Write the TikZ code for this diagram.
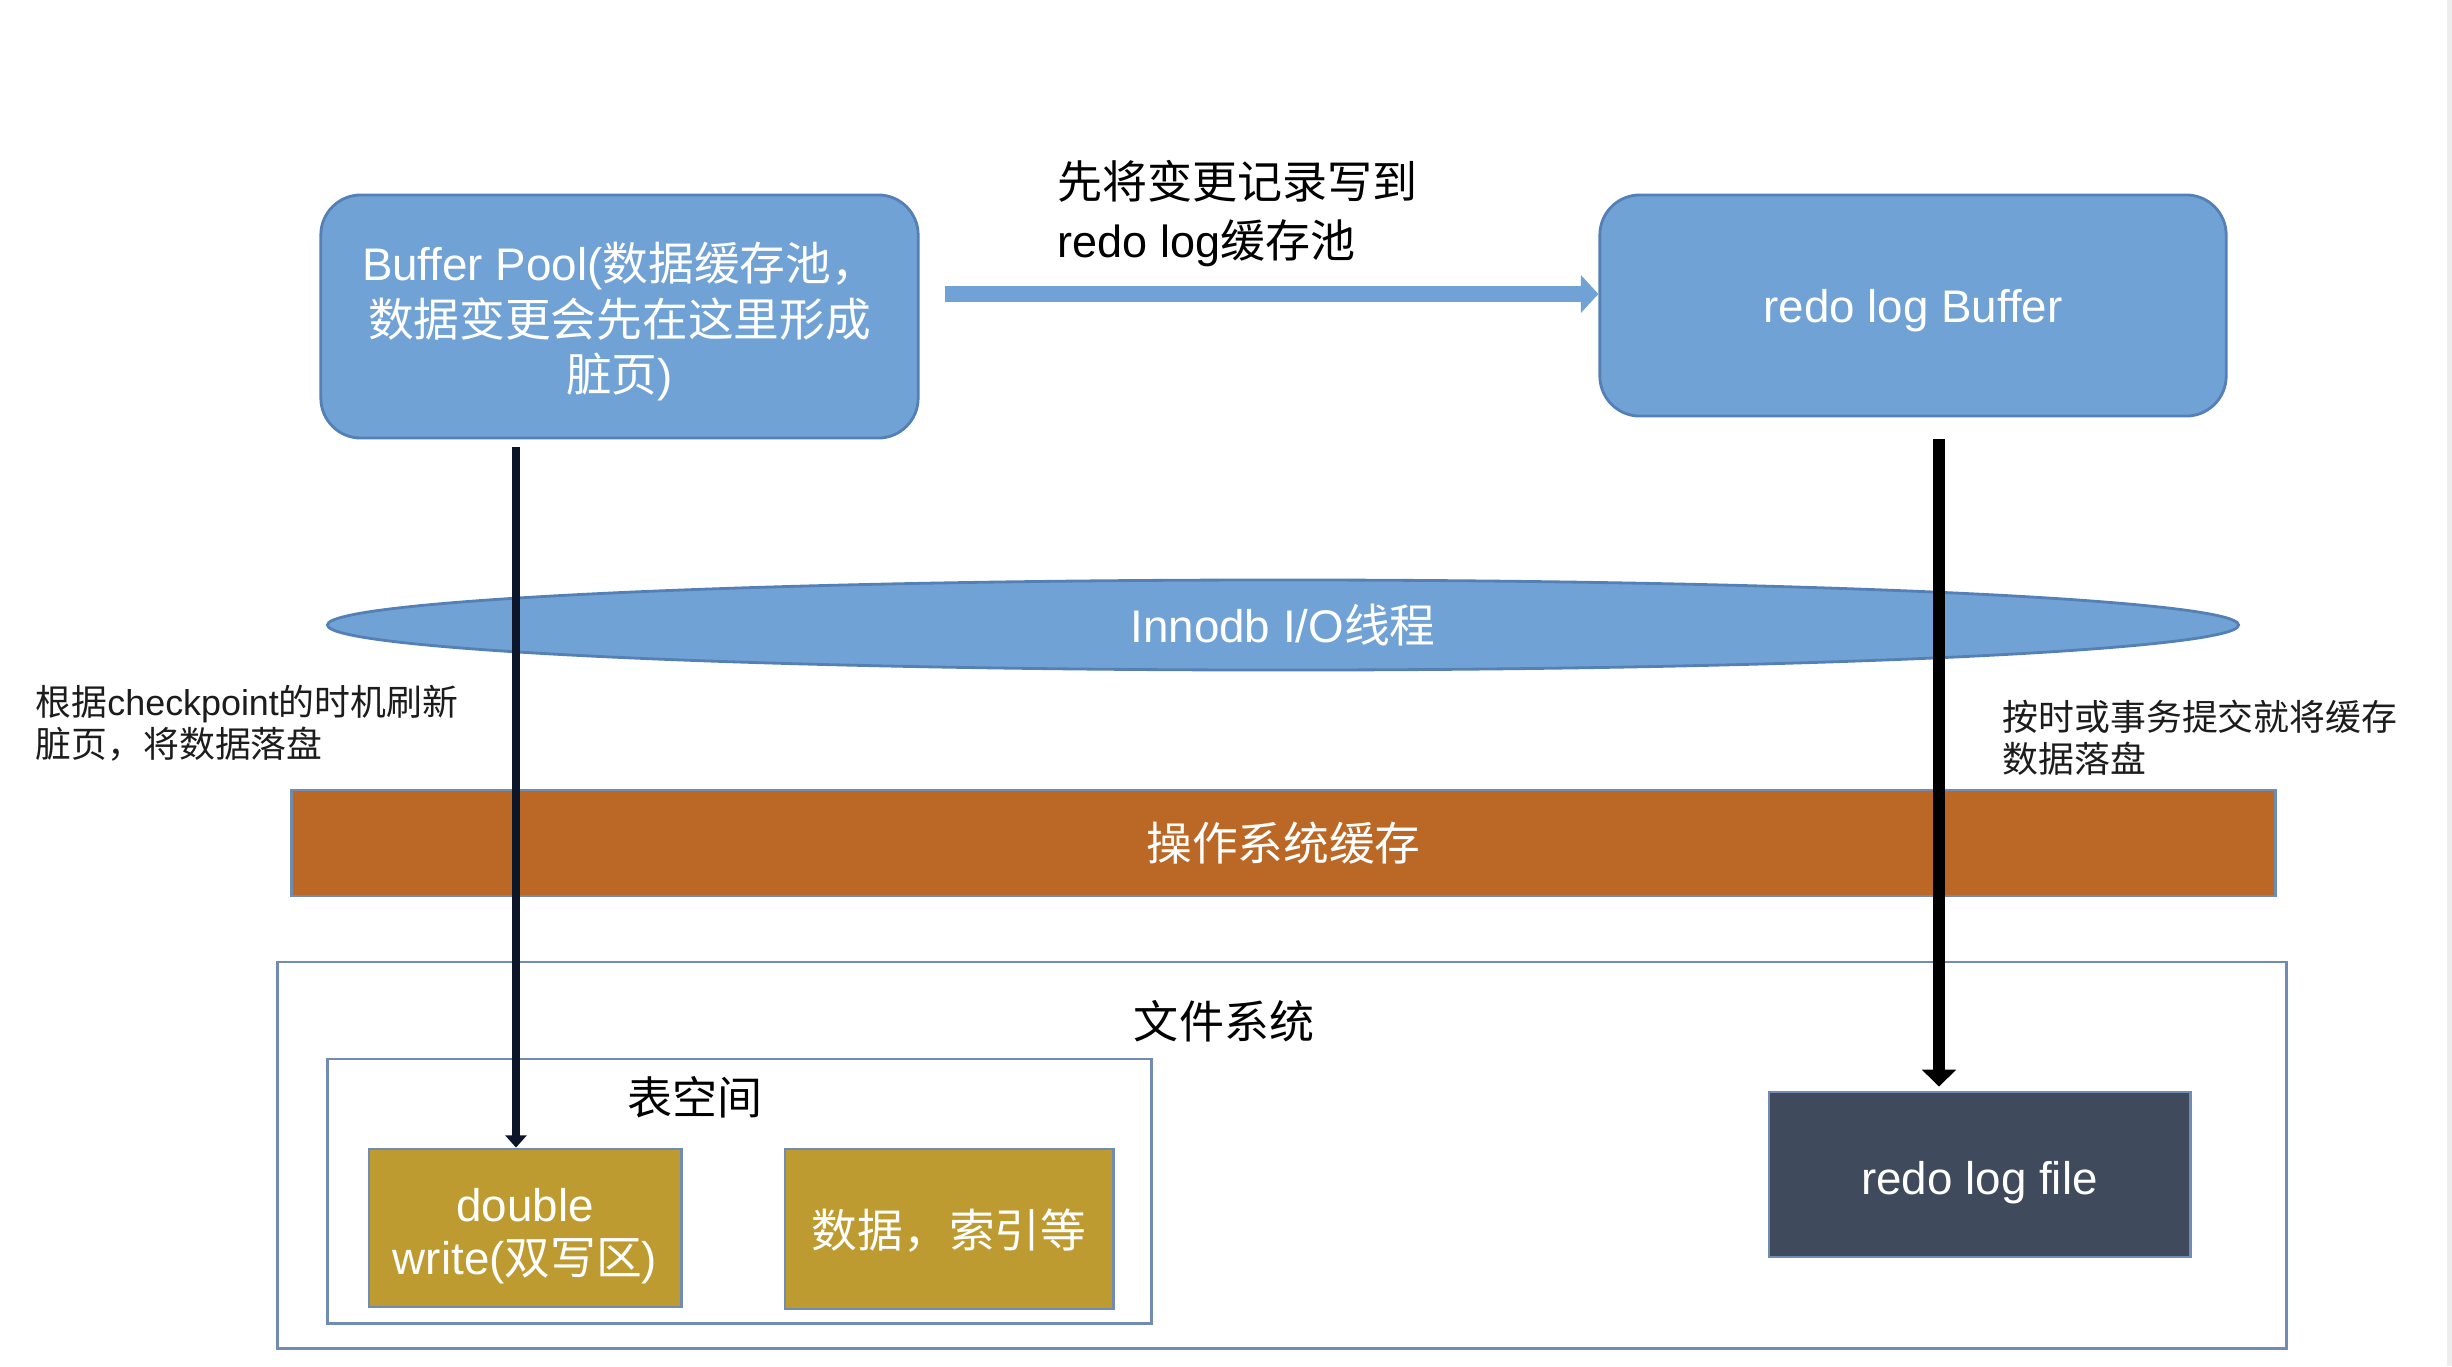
\documentclass[tikz,border=0pt]{standalone}
\usepackage{fontspec}
\setmainfont{Liberation Sans}
\newfontfamily\cjk{Noto Sans CJK SC}
\usetikzlibrary{arrows.meta,shapes.geometric}
\definecolor{boxblue}{RGB}{113,162,214}
\definecolor{boxblueline}{RGB}{84,128,182}
\definecolor{osorange}{RGB}{187,104,38}
\definecolor{goldbox}{RGB}{190,155,49}
\definecolor{slatebox}{RGB}{63,74,92}
\definecolor{framecol}{RGB}{112,140,178}
\definecolor{navyarrow}{RGB}{12,22,40}
\definecolor{notecol}{RGB}{28,28,28}
\newcommand{\lowerby}[1]{\rule{0pt}{#1}}
\begin{document}
\begin{tikzpicture}[x=0.01cm,y=-0.01cm,
  boxfont/.style={font=\fontsize{13}{14.8}\selectfont},
  bluebox/.style={draw=boxblueline,line width=0.8pt,fill=boxblue,rounded corners=0.4cm,
    text=white,align=center,boxfont,inner sep=0pt},
  flatbox/.style={draw=framecol,line width=0.8pt,inner sep=0pt,text=white,align=center,boxfont},
  framebox/.style={draw=framecol,line width=0.8pt,inner sep=0pt},
  notefont/.style={font=\fontsize{10.2}{11.95}\selectfont,text=notecol,align=left,inner sep=0pt},
  labelfont/.style={font=\fontsize{12.8}{14}\selectfont,text=black,inner sep=0pt},
  bluearr/.style={draw=boxblue,line width=4.5pt,-{Triangle[width=10.5pt,length=5pt]}},
  darkarr/.style={draw=navyarrow,line width=2.4pt,-{Triangle[width=6pt,length=3.5pt]}},
  blackarr/.style={draw=black,line width=3.4pt,-{Triangle[width=9.5pt,length=4.8pt]}}
]
% canvas
\fill[white] (0,0) rectangle (2452,1366);
\fill[black!7] (2447,0) rectangle (2452,1366);

% top boxes
\node[bluebox,minimum width=5.97cm,minimum height=2.43cm,font=\fontsize{13}{15.9}\selectfont] (bp) at (619.5,316.5)
  {\lowerby{13.8pt}Buffer Pool({\cjk 数据缓存池，}\\{\cjk 数据变更会先在这里形成}\\{\cjk 脏页})};
\node[bluebox,minimum width=6.26cm,minimum height=2.21cm] (rlb) at (1913,305.5)
  {\lowerby{12.4pt}redo log Buffer};

% label above the blue arrow
\node[labelfont,font=\fontsize{12.8}{16.8}\selectfont,align=left,anchor=west] (wlabel) at (1057,214)
  {{\cjk 先将变更记录写到}\\redo log{\cjk 缓存池}};

% Innodb I/O thread ellipse
\node[ellipse,draw=boxblueline,line width=0.8pt,fill=boxblue,minimum width=19.1cm,
  minimum height=0.9cm,inner sep=0pt,text=white,boxfont] (io) at (1283,625)
  {Innodb I/O{\cjk 线程}};

% OS cache bar
\node[flatbox,fill=osorange,minimum width=19.83cm,minimum height=1.06cm] (os) at (1283.5,843)
  {\cjk 操作系统缓存};

% file system
\node[framebox,minimum width=20.08cm,minimum height=3.86cm] (fs) at (1282,1155) {};
\node[labelfont] (fslabel) at (1224,1021) {\cjk 文件系统};
\node[framebox,minimum width=8.23cm,minimum height=2.64cm] (ts) at (739.5,1191) {};
\node[labelfont] (tslabel) at (695,1097) {\cjk 表空间};
\node[flatbox,fill=goldbox,minimum width=3.12cm,minimum height=1.58cm,font=\fontsize{13}{15.2}\selectfont] (dw) at (525,1228)
  {\lowerby{14.2pt}double\\write({\cjk 双写区})};
\node[flatbox,fill=goldbox,minimum width=3.28cm,minimum height=1.6cm] (idx) at (949,1229)
  {\lowerby{12pt}\cjk 数据，索引等};
\node[flatbox,fill=slatebox,minimum width=4.21cm,minimum height=1.65cm] (rlf) at (1979.5,1174.5)
  {\lowerby{14.1pt}redo log file};

% annotations
\node[notefont,anchor=west] (lnote) at (35,723)
  {{\cjk 根据}checkpoint{\cjk 的时机刷新}\\{\cjk 脏页，将数据落盘}};
\node[notefont,anchor=west] (rnote) at (2002,738)
  {\cjk 按时或事务提交就将缓存\\\cjk 数据落盘};

% connectors
\coordinate (a0) at (945,294);
\draw[bluearr] (a0) -- (a0 -| rlb.west);
\coordinate (lx) at (516,0);
\draw[darkarr] ([yshift=-0.08cm]bp.south -| lx) -- (dw.north -| lx);
\coordinate (rx) at (1939,0);
\draw[blackarr] ([yshift=-0.22cm]rlb.south -| rx) -- ([yshift=0.04cm]rlf.north -| rx);
\end{tikzpicture}
\end{document}
